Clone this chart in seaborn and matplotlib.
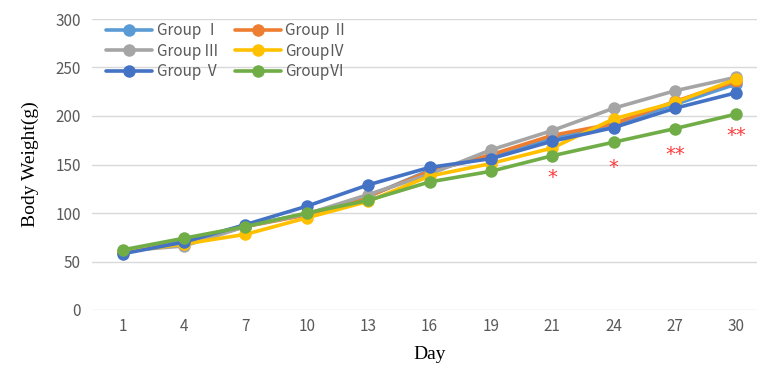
import pandas as pd
import numpy as np
import matplotlib
matplotlib.use('Agg')
import matplotlib.pyplot as plt
import seaborn as sns

# data
days = ['1', '4', '7', '10', '13', '16', '19', '21', '24', '27', '30']
groups = ['Group Ⅰ', 'Group Ⅱ', 'Group III', 'GroupⅣ', 'Group Ⅴ', 'GroupⅥ']
g1 = [60, 71, 87, 99, 117, 144, 158, 177, 191, 212, 233]
g2 = [60, 69, 86, 98, 117, 143, 160, 180, 192, 215, 236]
g3 = [61, 66, 86, 99, 119, 140, 165, 185, 208, 226, 240]
g4 = [60, 68, 78, 95, 112, 138, 151, 167, 197, 214, 238]
g5 = [58, 70, 88, 107, 129, 147, 156, 174, 188, 208, 224]
g6 = [62, 74, 86, 100, 113, 132, 143, 159, 173, 187, 202]
star_days = ['21', '24', '27', '30']
star_text = ['*', '*', '**', '**']
star_y = [137, 147, 160, 180]

colors = ['#5B9BD5', '#ED7D31', '#A5A5A5', '#FFC000', '#4472C4', '#70AD47']

df = pd.DataFrame({
    'Day': days * 6,
    'Weight': g1 + g2 + g3 + g4 + g5 + g6,
    'Group': np.repeat(groups, len(days)),
})

sns.set_style('white')
plt.rcParams['font.family'] = ['Noto Sans CJK SC', 'DejaVu Sans']

fig = plt.figure(figsize=(7.57, 3.72), dpi=100)
ax = fig.add_axes([92 / 757, 62 / 372, 675 / 757, 291 / 372])

sns.lineplot(data=df, x='Day', y='Weight', hue='Group', palette=colors,
             marker='o', markersize=9, markeredgewidth=0, linewidth=2.6,
             sort=False, ax=ax)

for d, t, y in zip(star_days, star_text, star_y):
    ax.text(days.index(d), y, t, color='#FF3B3B', fontsize=14,
            ha='center', va='center', family='DejaVu Sans')

ax.set_xlim(-0.5, 10.5)
ax.set_ylim(0, 300)
ax.set_yticks(range(0, 301, 50))
ax.yaxis.grid(True, color='#D9D9D9', linewidth=1)
ax.xaxis.grid(False)
for s in ax.spines.values():
    s.set_visible(False)
ax.tick_params(axis='both', colors='#595959', labelsize=11, length=0, pad=8)
ax.tick_params(axis='x', pad=6)

ax.set_xlabel('Day', family='Liberation Serif', fontsize=14, color='black', labelpad=8)
ax.set_ylabel('Body Weight(g)', family='Liberation Serif', fontsize=14, color='black', labelpad=12)

# legend filled row by row: I II / III IV / V VI
handles, labels = ax.get_legend_handles_labels()
order = [0, 2, 4, 1, 3, 5]
leg = ax.legend([handles[i] for i in order], [labels[i] for i in order],
                loc='upper left', bbox_to_anchor=(0.012, 1.01), ncol=2, frameon=False,
                fontsize=11, handlelength=3.0, handletextpad=0.3, columnspacing=1.0,
                labelspacing=0.22, borderaxespad=0)
for txt in leg.get_texts():
    txt.set_color('#595959')

fig.savefig('out.png', dpi=100)
